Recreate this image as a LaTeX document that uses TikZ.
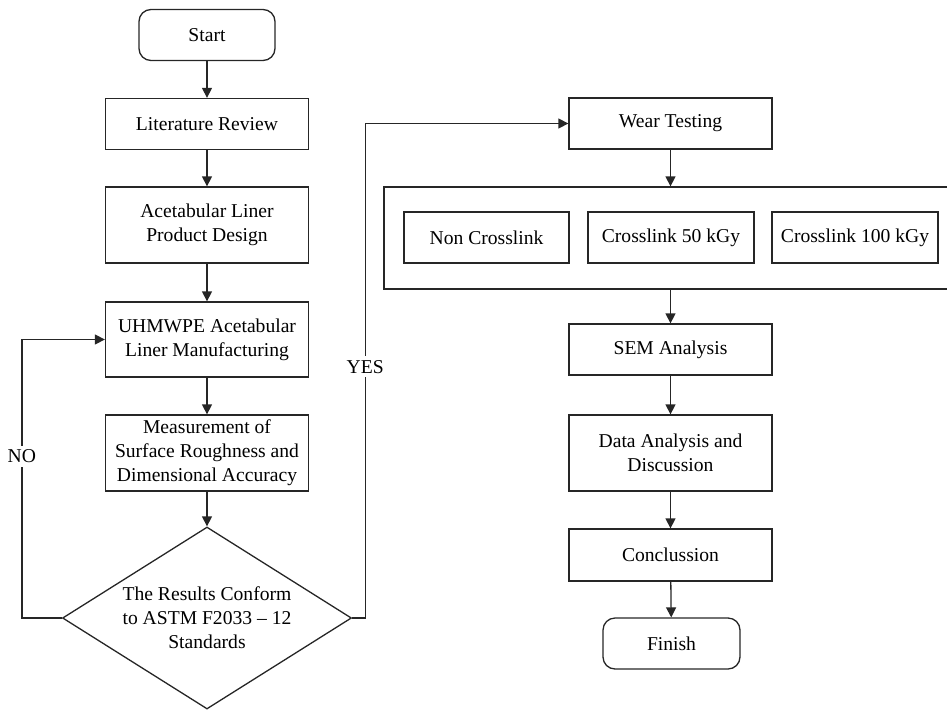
\documentclass[tikz,border=0pt]{standalone}
\usepackage{fontspec}
\setmainfont{Liberation Serif}
\usetikzlibrary{shapes.geometric,arrows.meta}
\begin{document}
\begin{tikzpicture}[x=0.5pt,y=-0.5pt,
  font=\fontsize{9.8}{12}\selectfont,
  every node/.style={align=center,inner sep=0pt},
  box/.style={draw=black!85,line width=0.65pt,minimum width=101.5pt,minimum height=25.5pt},
  term/.style={draw=black!85,line width=0.65pt,rounded corners=6pt,minimum width=68pt,minimum height=25.5pt},
  sub/.style={draw=black!85,line width=0.65pt,minimum width=83pt,minimum height=25.5pt},
  arr/.style={draw=black!85,line width=0.65pt,-{Triangle[length=5pt,width=5pt]}},
  lbl/.style={fill=white,inner sep=2pt}]
\useasboundingbox (0,0) rectangle (947,713);

\node[term] (start) at (207,35) {Start};
\node[box] (lit) at (207,124) {Literature Review};
\node[box,minimum height=38pt] (design) at (207,225) {Acetabular Liner\\Product Design};
\node[box,minimum height=37.5pt] (manuf) at (207,339.5) {UHMWPE Acetabular\\Liner Manufacturing};
\node[box,minimum height=38pt] (meas) at (207,453) {Measurement of\\Surface Roughness and\\Dimensional Accuracy};
\node[draw=black!85,line width=0.65pt,diamond,aspect=1.59,minimum width=144.5pt,minimum height=91pt] (check) at (207,618) {The Results Conform\\to ASTM F2033 -- 12\\Standards};

\node[box] (wear) at (670.5,123.5) {Wear Testing};
\node[draw=black!85,line width=0.65pt,minimum width=286.5pt,minimum height=51pt] (group) at (670.5,238) {};
\node[sub,minimum width=82.5pt] (noncl) at (486.5,237.5) {Non Crosslink};
\node[sub] (cl50) at (671,237.5) {Crosslink 50 kGy};
\node[sub] (cl100) at (855,237.5) {Crosslink 100 kGy};
\node[box] (sem) at (670.5,349.5) {SEM Analysis};
\node[box,minimum height=38pt] (data) at (670.5,453) {Data Analysis and\\Discussion};
\node[box,minimum height=26pt] (concl) at (670.5,555) {Conclussion};
\node[term,minimum width=68.5pt] (finish) at (671.5,643.5) {Finish};

\draw[arr] (start) -- (lit);
\draw[arr] (lit) -- (design);
\draw[arr] (design) -- (manuf);
\draw[arr] (manuf) -- (meas);
\draw[arr] (meas) -- (check);
\draw[arr] (check.west) -- ++(-40,0) |- node[lbl,pos=0.29] {NO} (manuf.west);
\draw[arr] (check.east) -- ++(13,0) |- node[lbl,pos=0.254] {YES} (wear.west);
\draw[arr] (wear) -- (group);
\draw[arr] (group) -- (sem);
\draw[arr] (sem) -- (data);
\draw[arr] (data) -- (concl);
\draw[arr] (concl) -- (finish);
\end{tikzpicture}
\end{document}
